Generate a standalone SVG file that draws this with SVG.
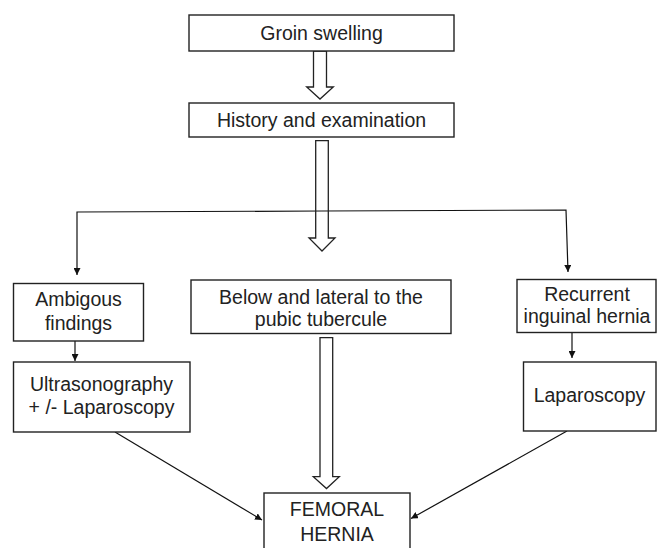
<svg xmlns="http://www.w3.org/2000/svg" width="661" height="548" viewBox="0 0 661 548">
<defs>
<style>
.box{fill:#fff;stroke:#222;stroke-width:1.4}
.t{font-family:"Liberation Sans",Arial,sans-serif;font-size:19.5px;fill:#222;text-anchor:middle}
.ln{fill:none;stroke:#111;stroke-width:1.2}
.big{fill:none;stroke:#222;stroke-width:1.3;stroke-linejoin:miter}
</style>
<marker id="ah" viewBox="0 0 10 10" refX="10" refY="5" markerWidth="7" markerHeight="7" markerUnits="userSpaceOnUse" orient="auto">
<path d="M0,0 L10,5 L0,10 z" fill="#111"/>
</marker>
</defs>
<rect width="661" height="548" fill="#fff"/>
<g id="connectors">
<polyline class="ln" points="322,211 77,212 77,275" marker-end="url(#ah)"/>
<polyline class="ln" points="322,211 566,210 568,272" marker-end="url(#ah)"/>
<line class="ln" x1="75" y1="341" x2="75" y2="361" marker-end="url(#ah)"/>
<line class="ln" x1="572" y1="332" x2="572" y2="358" marker-end="url(#ah)"/>
<line class="ln" x1="115" y1="432" x2="262" y2="520" marker-end="url(#ah)"/>
<line class="ln" x1="567" y1="431" x2="411" y2="518.5" marker-end="url(#ah)"/>
<path class="big" d="M313.5,51 L326.5,51 L326.5,87 L333.3,87 L320,99 L306.7,87 L313.5,87 Z"/>
<path class="big" d="M315.7,140.7 L328.3,140.7 L328.3,238 L335,238 L322,251 L309,238 L315.7,238 Z"/>
<path class="big" d="M320,337.7 L332.7,337.7 L332.7,476.7 L339.3,476.7 L326.5,488.5 L313.3,476.7 L320,476.7 Z"/>
</g>
<g id="groin">
<rect class="box" x="189" y="15" width="265" height="36"/>
<text class="t" x="321.5" y="39.5">Groin swelling</text>
</g>
<g id="history">
<rect class="box" x="189" y="103" width="265" height="34"/>
<text class="t" x="321.5" y="126.5">History and examination</text>
</g>
<g id="ambiguous">
<rect class="box" x="13.5" y="283.5" width="130" height="57.5"/>
<text class="t" x="78.5" y="306">Ambigous</text>
<text class="t" x="78.5" y="330">findings</text>
</g>
<g id="below">
<rect class="box" x="191" y="280" width="260" height="53.5"/>
<text class="t" x="321" y="304">Below and lateral to the</text>
<text class="t" x="321" y="326">pubic tubercule</text>
</g>
<g id="recurrent">
<rect class="box" x="517" y="279.5" width="139" height="53"/>
<text class="t" x="587" y="300.5">Recurrent</text>
<text class="t" x="587" y="323">inguinal hernia</text>
</g>
<g id="ultrasonography">
<rect class="box" x="13.5" y="362" width="176.5" height="70"/>
<text class="t" x="101.5" y="391">Ultrasonography</text>
<text class="t" x="101.5" y="413.5">+ /- Laparoscopy</text>
</g>
<g id="laparoscopy">
<rect class="box" x="523.5" y="362" width="132.5" height="69"/>
<text class="t" x="589.5" y="402">Laparoscopy</text>
</g>
<g id="femoral">
<rect class="box" x="264" y="493" width="146" height="70"/>
<text class="t" x="337" y="515.5">FEMORAL</text>
<text class="t" x="337" y="540.5">HERNIA</text>
</g>
</svg>
